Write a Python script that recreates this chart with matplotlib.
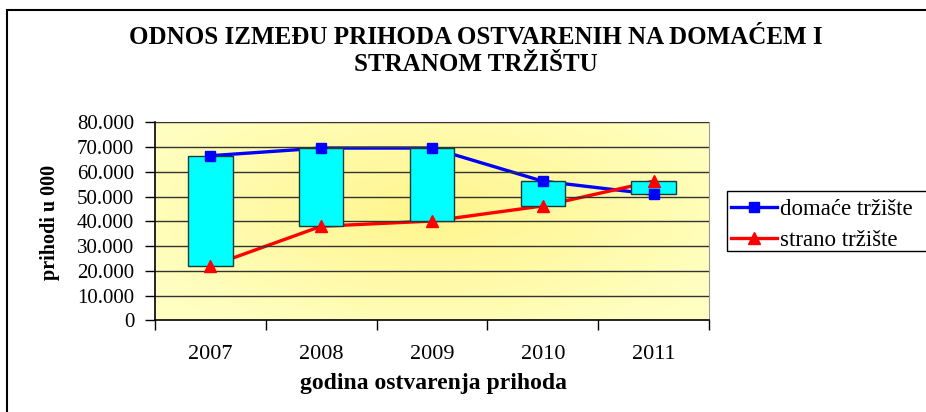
import numpy as np
import matplotlib
matplotlib.use('Agg')
import matplotlib.pyplot as plt
from matplotlib.ticker import FuncFormatter, FixedLocator
from matplotlib.patches import Rectangle

# podaci (u 000)
godine = ['2007', '2008', '2009', '2010', '2011']
domace = [66500, 69600, 69600, 56200, 50900]
strano = [21900, 38000, 40100, 46200, 56200]

plt.rcParams['font.family'] = ['Liberation Serif', 'DejaVu Serif']

fig = plt.figure(figsize=(9.26, 4.12), dpi=100)
ax = fig.add_axes([155 / 926, 1 - 320.3 / 412, 554 / 926, 198 / 412])

x = np.arange(len(godine))

# pozadina - radijalni gradijent
gy, gx = np.mgrid[0:1:200j, 0:1:400j]
r = np.clip(np.sqrt(((gx - 0.5) / 0.6) ** 2 + ((gy - 0.45) / 0.7) ** 2), 0, 1)
c_in = np.array([1.0, 0.96, 0.55])
c_out = np.array([1.0, 1.0, 0.76])
img = c_in + (c_out - c_in) * r[..., None]
ax.imshow(img, extent=[0, 1, 0, 1], transform=ax.transAxes, aspect='auto', zorder=0)

# linije
ax.plot(x, domace, color='#0000FF', lw=2.4, zorder=2)
ax.plot(x, strano, color='#FF0000', lw=2.4, zorder=2)

# up-down bars
low = np.minimum(domace, strano)
high = np.maximum(domace, strano)
ax.bar(x, high - low, bottom=low, width=0.4, color='#00FFFF', edgecolor='#1a3a3a', lw=1, zorder=3)

# markeri
ax.plot(x, domace, ls='none', marker='s', ms=7, color='#0000FF', zorder=4)
ax.plot(x, strano, ls='none', marker='^', ms=8, color='#FF0000', zorder=4)

ax.set_xlim(-0.5, len(godine) - 0.5)
ax.set_ylim(0, 80000)
ax.set_yticks(np.arange(0, 80001, 10000))
ax.yaxis.set_major_formatter(FuncFormatter(lambda v, p: f"{int(v):,}".replace(',', '.')))
ax.grid(axis='y', color='#333333', lw=1, zorder=1)
ax.set_axisbelow(False)

ax.set_xticks(x)
ax.set_xticklabels(godine, fontsize=16)
ax.xaxis.set_minor_locator(FixedLocator(np.arange(-0.5, len(godine), 1)))
ax.tick_params(axis='x', which='major', length=0, pad=18)
ax.tick_params(axis='x', which='minor', length=7, width=1, direction='out')
ax.tick_params(axis='y', labelsize=15, length=7, width=1, direction='out', pad=8)

for s in ['top', 'right']:
    ax.spines[s].set_color('#999999')
for s in ['left', 'bottom']:
    ax.spines[s].set_color('black')
    ax.spines[s].set_linewidth(1.2)

fig.text(476 / 926, 1 - 44 / 412, 'ODNOS IZMEĐU PRIHODA OSTVARENIH NA DOMAĆEM I',
         ha='center', va='baseline', fontsize=18, fontweight='bold')
fig.text(476 / 926, 1 - 71 / 412, 'STRANOM TRŽIŠTU',
         ha='center', va='baseline', fontsize=18, fontweight='bold')

fig.text(50 / 926, 1 - 222 / 412, 'prihodi u 000', rotation=90, ha='center', va='center',
         fontsize=14.5, fontweight='bold')
fig.text(433 / 926, 1 - 383 / 412, 'godina ostvarenja prihoda', ha='center', va='center',
         fontsize=17, fontweight='bold')

# legenda (okvir ide preko desnog ruba slike)
leg = fig.legend(handles=[
    plt.Line2D([], [], color='#0000FF', lw=2.4, marker='s', ms=7),
    plt.Line2D([], [], color='#FF0000', lw=2.4, marker='^', ms=8)],
    labels=['domaće tržište', 'strano tržište'],
    loc='upper left', bbox_to_anchor=(731 / 926, 1 - 199 / 412), borderaxespad=0,
    fontsize=16.5, frameon=False,
    handlelength=2.0, handletextpad=0.15, borderpad=0.0, labelspacing=0.45)
fig.patches.append(Rectangle((727 / 926, 1 - 251 / 412), 0.3, 60 / 412,
                             transform=fig.transFigure, fill=False, ec='black', lw=1))

# okvir
fig.patches.append(Rectangle((7 / 926, -0.05), 1.0, 1 - 10 / 412 + 0.05,
                             transform=fig.transFigure, fill=False, ec='black', lw=1.5))

fig.savefig('out.png', dpi=100)
